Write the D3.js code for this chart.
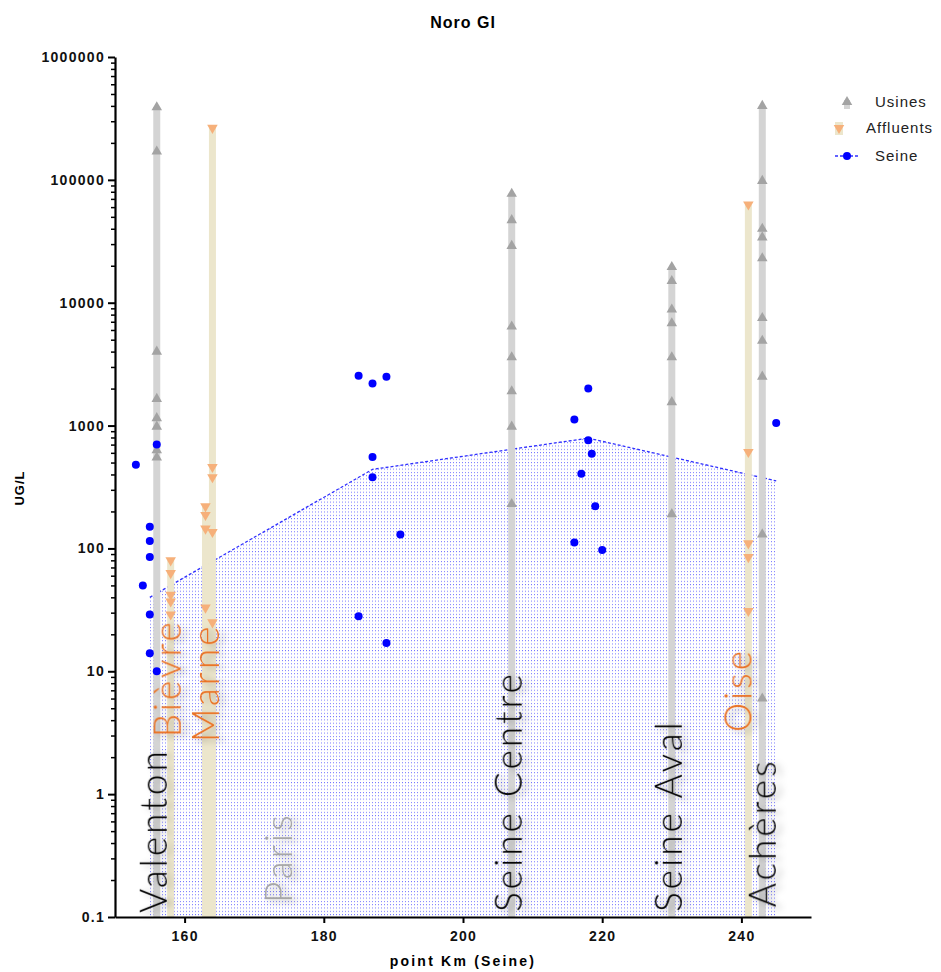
<!DOCTYPE html>
<html>
<head>
<meta charset="utf-8">
<script src="https://cdn.jsdelivr.net/npm/d3@7"></script>
<style>
  body { margin: 0; background: #fff; }
  svg text { font-family: "Liberation Sans", Arial, sans-serif; }
</style>
</head>
<body>
<div id="chart"></div>
<script>
// Data (km on the Seine, concentrations in UG/L)
const usineKm = [156, 207, 230, 243]
const usineValues = [
  [390000, 170000, 4000, 1650, 1150, 980, 630, 550],
  [77000, 47000, 29000, 6400, 3600, 1900, 980, 230],
  [19500, 15000, 8800, 6800, 3600, 1550, 190],
  [400000, 98000, 40000, 34000, 23000, 7500, 4900, 2500, 130, 6]
]

const affluentKm = [158, 163, 164, 241]
const affluentValues = [
  [80, 63, 42, 37, 29],
  [220, 187, 145, 33],
  [265000, 460, 380, 136, 25],
  [63000, 610, 110, 85, 31]
]

const seineKm = [153, 154, 155, 155, 155, 155, 155, 156, 156,
  185, 187, 189, 187, 187, 191, 185, 189,
  216, 218, 218, 218.5, 217, 219, 216, 220, 245]
const seineValues = [480, 50, 150, 115, 85, 29, 14, 700, 10,
  2550, 2200, 2500, 555, 380, 130, 28, 17,
  1120, 2000, 760, 590, 405, 220, 112, 97, 1050]

const medianKm = [155, 187, 218, 245]
const medianValues = [40, 440, 790, 355]

const labelNames = ["Valenton", "Bièvre", "Marne", "Paris", "Seine Centre", "Seine Aval", "Oise", "Achères"]
const labelKm = [156, 158, 163.5, 174, 207, 230, 240, 243.5]
const labelBase = [0.108, 2.9, 2.65, 0.13, 0.11, 0.11, 3.2, 0.12]
const labelType = ["usine", "affluent", "affluent", "ville", "usine", "usine", "affluent", "usine"]

const yTicks = [0.1, 1, 10, 100, 1000, 10000, 100000, 1000000]
const xTicks = [160, 180, 200, 220, 240]

const legendNames = ["Usines", "Affluents", "Seine"]

function draw() {
  const dimensions = { width: 941, height: 972 }
  const colors = {
    usineBar: '#d4d4d4', usineMark: '#a3a3a3',
    affluentBar: '#ece6cc', affluentMark: '#f6b07a',
    seine: '#0000ff',
    usine: '#000', affluent: '#ea7020', ville: '#a6a6a6'
  }

  const svg = d3.select('#chart')
    .append('svg')
    .attr('width', dimensions.width)
    .attr('height', dimensions.height)

  const xScale = d3.scaleLinear().domain([150, 250]).range([115, 811])
  const yScale = d3.scaleLog().domain([0.1, 1000000]).range([917, 57])

  // defs
  const defs = svg.append('defs')
  const pat = defs.append('pattern')
    .attr('id', 'dots')
    .attr('patternUnits', 'userSpaceOnUse')
    .attr('width', 3).attr('height', 3.3)
  pat.append('rect').attr('width', 1).attr('height', 1)
    .attr('fill', '#2a2aff').attr('opacity', 0.65)

  const shadow = defs.append('filter').attr('id', 'shadow')
    .attr('x', '-20%').attr('y', '-40%').attr('width', '140%').attr('height', '180%')
  shadow.append('feDropShadow')
    .attr('dx', -2).attr('dy', 5).attr('stdDeviation', 3.5)
    .attr('flood-color', '#000').attr('flood-opacity', 0.35)

  // Seine area
  const median = d3.zip(medianKm, medianValues)
  const area = d3.area()
    .x(d => xScale(d[0]))
    .y0(yScale(0.1))
    .y1(d => yScale(d[1]))
  svg.append('path').datum(median)
    .attr('d', area)
    .attr('fill', 'url(#dots)')
  svg.append('path').datum(median)
    .attr('d', d3.line().x(d => xScale(d[0])).y(d => yScale(d[1])))
    .attr('fill', 'none')
    .attr('stroke', '#2f2fff')
    .attr('stroke-width', 1.3)
    .attr('stroke-dasharray', '3,2')

  // bars
  const barW = 7
  svg.append('g').selectAll('rect')
    .data(usineKm.map((k, i) => [k, d3.max(usineValues[i])]))
    .join('rect')
    .attr('x', d => xScale(d[0]) - barW / 2)
    .attr('width', barW)
    .attr('y', d => yScale(d[1]))
    .attr('height', d => yScale(0.1) - yScale(d[1]))
    .attr('fill', colors.usineBar)
  svg.append('g').selectAll('rect')
    .data(affluentKm.map((k, i) => [k, d3.max(affluentValues[i])]))
    .join('rect')
    .attr('x', d => xScale(d[0]) - barW / 2)
    .attr('width', barW)
    .attr('y', d => yScale(d[1]))
    .attr('height', d => yScale(0.1) - yScale(d[1]))
    .attr('fill', colors.affluentBar)

  // site labels
  svg.append('g').selectAll('text')
    .data(d3.range(labelNames.length))
    .join('text')
    .attr('transform', i => `translate(${xScale(labelKm[i]) + 10}, ${yScale(labelBase[i])}) rotate(-90)`)
    .attr('fill', i => colors[labelType[i]])
    .attr('filter', 'url(#shadow)')
    .style('font-family', 'Lato, "Open Sans", sans-serif')
    .style('font-weight', 300)
    .style('font-size', '37px')
    .style('letter-spacing', '3px')
    .text(i => labelNames[i])

  // markers
  const tri = d3.symbol().type(d3.symbolTriangle).size(48)
  svg.append('g').selectAll('path')
    .data(usineKm.flatMap((k, i) => usineValues[i].map(v => [k, v])))
    .join('path')
    .attr('d', tri)
    .attr('transform', d => `translate(${xScale(d[0])}, ${yScale(d[1])})`)
    .attr('fill', colors.usineMark)
  svg.append('g').selectAll('path')
    .data(affluentKm.flatMap((k, i) => affluentValues[i].map(v => [k, v])))
    .join('path')
    .attr('d', tri)
    .attr('transform', d => `translate(${xScale(d[0])}, ${yScale(d[1])}) rotate(180)`)
    .attr('fill', colors.affluentMark)
  svg.append('g').selectAll('circle')
    .data(d3.zip(seineKm, seineValues))
    .join('circle')
    .attr('cx', d => xScale(d[0]))
    .attr('cy', d => yScale(d[1]))
    .attr('r', 4)
    .attr('fill', colors.seine)

  // axes
  const minorTicks = yScale.ticks().filter(t => !yTicks.some(m => Math.abs(m - t) / m < 1e-6))
  const yMinor = svg.append('g')
    .attr('transform', 'translate(115, 0)')
    .call(d3.axisLeft(yScale).tickValues(minorTicks).tickSize(4).tickFormat(''))
  yMinor.select('.domain').remove()
  yMinor.selectAll('line').attr('stroke-width', 1.5)

  const yAxis = svg.append('g')
    .attr('transform', 'translate(115, 0)')
    .call(d3.axisLeft(yScale).tickValues(yTicks).tickSize(7).tickSizeOuter(0).tickPadding(3)
      .tickFormat(d => d < 1 ? '0.1' : d3.format('d')(d)))
  yAxis.select('.domain').attr('stroke-width', 2.2)
  yAxis.selectAll('line').attr('stroke-width', 2)
  yAxis.selectAll('text')
    .attr('fill', '#111')
    .style('font-size', '14px')
    .style('font-weight', 'bold')
    .style('letter-spacing', '1.3px')

  const xAxis = svg.append('g')
    .attr('transform', 'translate(0, 917)')
    .call(d3.axisBottom(xScale).tickValues(xTicks).tickSize(6).tickSizeOuter(0).tickPadding(8))
  xAxis.select('.domain').attr('stroke-width', 2.2)
  xAxis.selectAll('line').attr('stroke-width', 2)
  xAxis.selectAll('text')
    .attr('fill', '#111')
    .style('font-size', '14px')
    .style('font-weight', 'bold')
    .style('letter-spacing', '1.3px')

  // titles
  svg.append('text')
    .attr('x', 463).attr('y', 28)
    .attr('text-anchor', 'middle')
    .style('font-size', '16px').style('font-weight', 'bold').style('letter-spacing', '1px')
    .text('Noro GI')
  svg.append('text')
    .attr('x', 463).attr('y', 966)
    .attr('text-anchor', 'middle')
    .style('font-size', '14px').style('font-weight', 'bold').style('letter-spacing', '2.2px')
    .text('point Km (Seine)')
  svg.append('text')
    .attr('transform', 'translate(24, 488) rotate(-90)')
    .attr('text-anchor', 'middle')
    .style('font-size', '13px').style('font-weight', 'bold').style('letter-spacing', '1px')
    .text('UG/L')

  // legend
  const legend = svg.append('g').attr('transform', 'translate(847, 102)')
  const rowY = [0, 26, 54]
  legend.append('rect').attr('x', -3).attr('y', -2).attr('width', 6).attr('height', 9).attr('fill', colors.usineBar)
  legend.append('path').attr('d', tri).attr('fill', colors.usineMark)
  const aff = legend.append('g').attr('transform', `translate(-8, ${rowY[1]})`)
  aff.append('rect').attr('x', -4).attr('y', -6).attr('width', 8).attr('height', 13).attr('fill', colors.affluentBar)
  aff.append('path').attr('d', tri).attr('transform', 'rotate(180)').attr('fill', colors.affluentMark)
  const sei = legend.append('g').attr('transform', `translate(0, ${rowY[2]})`)
  sei.append('line').attr('x1', -12).attr('x2', 11)
    .attr('stroke', '#2f2fff').attr('stroke-width', 1.3).attr('stroke-dasharray', '3,2')
  sei.append('circle').attr('r', 4).attr('fill', colors.seine)
  legend.selectAll('text.lg')
    .data(legendNames)
    .join('text')
    .attr('class', 'lg')
    .attr('x', (d, i) => i === 1 ? 19 : 28)
    .attr('y', (d, i) => rowY[i] + 5)
    .attr('fill', '#222')
    .style('font-size', '15px')
    .style('letter-spacing', '1px')
    .text(d => d)
}

draw()
</script>
</body>
</html>
